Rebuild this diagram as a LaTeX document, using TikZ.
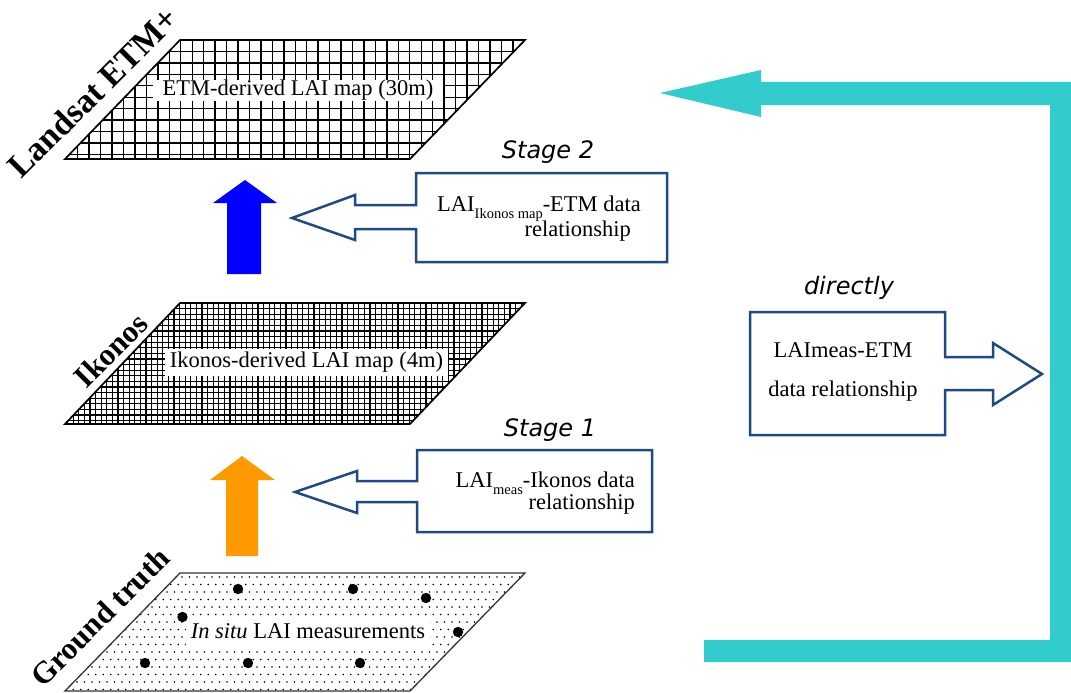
\documentclass[tikz,border=0pt]{standalone}
\usepackage{fontspec}
\setmainfont{Liberation Serif}
\newfontfamily\stagefont{DejaVu Sans}
\definecolor{cyanarr}{HTML}{33CCCC}
\definecolor{boxblue}{HTML}{1F4A86}
\definecolor{orangearr}{HTML}{FF9900}
\definecolor{bluearr}{HTML}{0000FF}
\newcommand\lowsub[1]{\raisebox{-0.32em}{\fontsize{14.5}{15}\selectfont #1}}
\tikzset{
  gridline/.style={line width=1.4pt},
  fineline/.style={line width=1.25pt},
  mapedge/.style={draw=black, line width=1.7pt, line join=miter},
  maptext/.style={fill=white, inner sep=0pt, font=\fontsize{22.5}{27}\selectfont},
  sidelabel/.style={rotate=45, inner sep=0pt, font=\fontsize{31}{34}\selectfont\bfseries},
  stagelabel/.style={inner sep=0pt, font=\stagefont\itshape\fontsize{24}{28}\selectfont},
  calltext/.style={inner sep=0pt, font=\fontsize{22.5}{27}\selectfont},
  callout/.style={draw=boxblue, line width=2.5pt, fill=white, line join=miter},
  bigdot/.style={fill=black},
}
\begin{document}
\begin{tikzpicture}[x=1pt,y=-1pt]
\useasboundingbox (0,0) rectangle (1071,693);
% ---------- Landsat map ----------
\coordinate (L1) at (180,40); \coordinate (L2) at (525,40);
\coordinate (L3) at (410,159); \coordinate (L4) at (65,159);
\begin{scope}
\clip (L1) -- (L2) -- (L3) -- (L4) -- cycle;
\foreach \i in {0,...,40} \draw[gridline] (66.25+\i*11.45,36) -- ++(0,128);
\foreach \j in {0,...,11} \draw[gridline] (60,40+\j*11.45) -- ++(470,0);
\end{scope}
\draw[mapedge] (L1) -- (L2) -- (L3) -- (L4) -- cycle;
\node[maptext, minimum width=290, minimum height=20] (landsatmap) at (298,90.5) {ETM-derived LAI map (30m)};
% ---------- Ikonos map ----------
\coordinate (I1) at (180,303); \coordinate (I2) at (525,303);
\coordinate (I3) at (410,424); \coordinate (I4) at (65,424);
\begin{scope}
\clip (I1) -- (I2) -- (I3) -- (I4) -- cycle;
\foreach \i in {0,...,84} \draw[fineline] (62+\i*5.6,300) -- ++(0,128);
\foreach \j in {0,...,22} \draw[fineline] (60,303+\j*5.6) -- ++(470,0);
\end{scope}
\draw[mapedge] (I1) -- (I2) -- (I3) -- (I4) -- cycle;
\node[maptext, minimum width=283, minimum height=27] (ikonosmap) at (306.5,362.5) {Ikonos-derived LAI map (4m)};
% ---------- Ground truth ----------
\coordinate (G1) at (180,573); \coordinate (G2) at (525,573);
\coordinate (G3) at (410,691); \coordinate (G4) at (65,691);
\begin{scope}
\clip (G1) -- (G2) -- (G3) -- (G4) -- cycle;
\foreach \j in {0,...,16} \foreach \i in {0,...,62}
  \fill[black] ({62+\i*7.5+mod(\j,2)*3.75},{577+\j*7.5}) circle (0.9);
\end{scope}
\draw[draw=black!80, line width=1.3pt] (G1) -- (G2) -- (G3) -- (G4) -- cycle;
\node[maptext, minimum width=244, minimum height=29] (groundmap) at (308,631.5) {\textit{In situ} LAI measurements};
\foreach \p in {(238,589),(353,589),(426,598),(182.5,617),(458,632),(145,663),(248,663),(360,663)}
  \fill[bigdot] \p circle (5.2);
% ---------- side labels ----------
\node[sidelabel, font=\fontsize{34}{36}\selectfont\bfseries] (landsatlbl) at (93,92) {Landsat ETM+};
\node[sidelabel] (ikonoslbl) at (111,350) {Ikonos};
\node[sidelabel] (groundlbl) at (100,617) {Ground truth};
% ---------- block arrows ----------
\fill[bluearr] (227,274) -- (227,203) -- (213,203) -- (245,180) -- (277,203) -- (261,203) -- (261,274) -- cycle;
\fill[orangearr] (226,556) -- (226,480) -- (210,480) -- (242,456) -- (275,480) -- (258,480) -- (258,556) -- cycle;
% ---------- Stage 2 callout ----------
\draw[callout] (416,173) -- (667,173) -- (667,262) -- (416,262) -- (416,229) -- (355,229) -- (355,240) -- (292,218) -- (355,195) -- (355,205) -- (416,205) -- cycle;
\node[stagelabel] (stage2) at (548,152) {Stage 2};
\node[calltext, anchor=base west] (s2a) at (437,211) {LAI\lowsub{Ikonos map}-ETM data};
\node[calltext, anchor=base east] (s2b) at (631,236) {relationship};
% ---------- Stage 1 callout ----------
\draw[callout] (417,450) -- (652,450) -- (652,532) -- (417,532) -- (417,502) -- (357,502) -- (357,513) -- (295,492) -- (357,471) -- (357,481) -- (417,481) -- cycle;
\node[stagelabel] (stage1) at (550,430) {Stage 1};
\node[calltext, anchor=base east] (s1a) at (635,487) {LAI\lowsub{meas}-Ikonos data};
\node[calltext, anchor=base east] (s1b) at (635,509) {relationship};
% ---------- directly callout ----------
\draw[callout] (750,312) -- (945,312) -- (945,357) -- (993,357) -- (993,343) -- (1042,374) -- (993,405) -- (993,390) -- (945,390) -- (945,435) -- (750,435) -- cycle;
\node[stagelabel] (directlylbl) at (849,288) {directly};
\node[calltext, anchor=base] (da) at (843,357) {LAImeas-ETM};
\node[calltext, anchor=base] (db) at (843,396) {data relationship};
% ---------- cyan return arrow ----------
\fill[cyanarr] (660,93) -- (761,70) -- (761,82) -- (1072,82) -- (1072,662) -- (704,662) -- (704,640) -- (1050,640) -- (1050,105) -- (761,105) -- (761,117) -- cycle;
\end{tikzpicture}
\end{document}
